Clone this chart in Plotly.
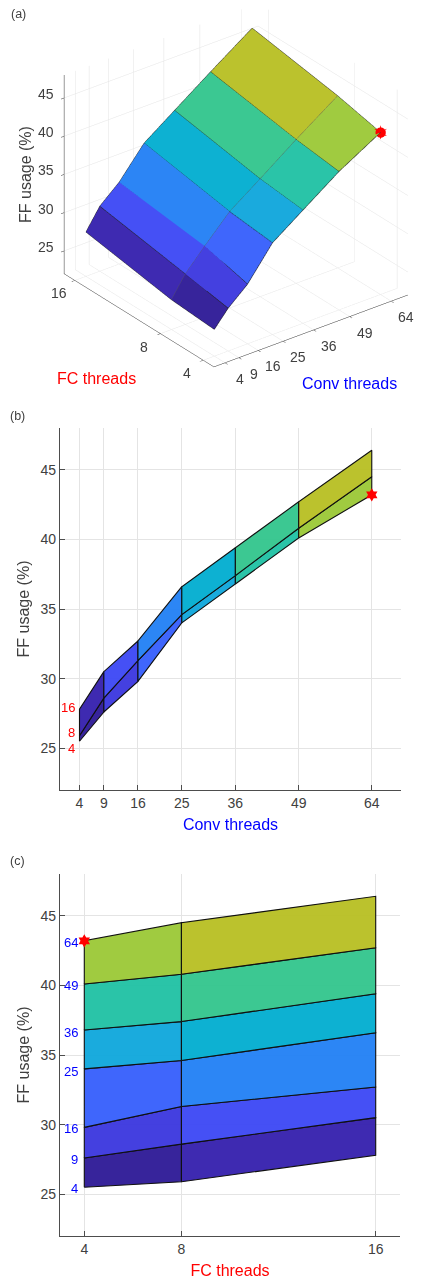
import plotly.graph_objects as go

W, H = 429, 1280
conv_threads = [4, 9, 16, 25, 36, 49, 64]
fc_threads = [4, 8, 16]
ff_fc4 = [25.5, 27.6, 29.8, 34.0, 36.8, 40.1, 43.2]
ff_fc8 = [25.9, 28.6, 31.3, 34.6, 37.4, 40.8, 44.5]
ff_fc16 = [27.8, 30.5, 32.7, 36.6, 39.4, 42.7, 46.4]
cell_colors_low = ["#37249b", "#4440e0", "#3f66fc", "#1aaadd", "#2ac4a8", "#a0cb40"]
cell_colors_high = ["#3e2ab1", "#4550f5", "#2c85f5", "#0db1d2", "#3bc892", "#bbc22d"]
ff_ticks = [25, 30, 35, 40, 45]
star_conv, star_fc, star_ff = 64, 4, 43.2

ff = [ff_fc4, ff_fc8, ff_fc16]
cell_colors = [cell_colors_low, cell_colors_high]
FONT = "Liberation Sans"
TXT = "#404040"
GRID = "#e4e4e4"
AXC = "#4d4d4d"

def fx(px): return px / W
def fy(px): return 1 - px / H

fig = go.Figure()

# ---------- (a) 3D
xs, ys, zs, ii, jj, kk, fcs = [], [], [], [], [], [], []
for r in range(2):
    for c in range(6):
        n = len(xs)
        for (rr, cc) in [(r, c), (r, c + 1), (r + 1, c + 1), (r + 1, c)]:
            xs.append(conv_threads[cc]); ys.append(fc_threads[rr]); zs.append(ff[rr][cc])
        ii += [n, n]; jj += [n + 1, n + 2]; kk += [n + 2, n + 3]
        fcs += [cell_colors[r][c]] * 2
fig.add_trace(go.Mesh3d(x=xs, y=ys, z=zs, i=ii, j=jj, k=kk, facecolor=fcs, flatshading=True,
                        lighting=dict(ambient=1, diffuse=0, specular=0, roughness=1, fresnel=0),
                        hoverinfo="skip", showscale=False, scene="scene"))
for r in range(3):
    fig.add_trace(go.Scatter3d(x=conv_threads, y=[fc_threads[r]] * 7, z=ff[r], mode="lines",
                               line=dict(color="#555555" if r == 1 else "#202020", width=1.2),
                               hoverinfo="skip", showlegend=False, scene="scene"))
for c in range(7):
    fig.add_trace(go.Scatter3d(x=[conv_threads[c]] * 3, y=fc_threads, z=[ff[r][c] for r in range(3)], mode="lines",
                               line=dict(color="#202020", width=1.2), hoverinfo="skip", showlegend=False, scene="scene"))
fig.add_trace(go.Scatter3d(x=[star_conv], y=[star_fc], z=[star_ff], mode="markers+text", text=["✶"], textposition="middle center",
                           textfont=dict(color="#ff0000", size=20, family="DejaVu Sans"),
                           marker=dict(symbol="circle", size=6, color="#ff0000"),
                           hoverinfo="skip", showlegend=False, scene="scene"))

axis3d = dict(showbackground=False, showgrid=True, gridcolor=GRID, gridwidth=1, showline=True, linecolor="#333333",
              linewidth=1, zeroline=False, ticks="outside", ticklen=4, tickcolor="#333333", showspikes=False,
              showticklabels=False, title=dict(text=""))
conv_range, fc_range, ff_range = [0, 70], [3, 17], [22, 48]

def tick3d(x, y, z, t, dx, dy):
    return dict(x=x, y=y, z=z, text=str(t), showarrow=False, xanchor="center", yanchor="middle", xshift=dx, yshift=dy,
                font=dict(family=FONT, size=14, color=TXT))

scene_notes = ([tick3d(conv_range[0], fc_range[1], v, v, -18, 4) for v in ff_ticks]
               + [tick3d(conv_range[0], v, ff_range[0], v, -16, -13) for v in fc_threads]
               + [tick3d(v, fc_range[0], ff_range[0], v, 15, -16) for v in conv_threads])

# full-width 400px-tall scene; the camera centre shifts the box to its place
box_scale = 1.225
cam_center = dict(x=-0.1071, y=0.0372, z=-0.0658)
view_dir = (-0.536, -0.694, 0.48)
scene = dict(
    domain=dict(x=[0, 1], y=[fy(400), 1]),
    xaxis=dict(axis3d, range=conv_range, tickvals=conv_threads),
    yaxis=dict(axis3d, range=fc_range, tickvals=fc_threads),
    zaxis=dict(axis3d, range=ff_range, tickvals=ff_ticks),
    aspectmode="manual", aspectratio=dict(x=box_scale, y=box_scale, z=0.925 * box_scale),
    camera=dict(projection=dict(type="orthographic"), up=dict(x=0, y=0, z=1), center=cam_center,
                eye=dict(x=view_dir[0] * 2 + cam_center["x"], y=view_dir[1] * 2 + cam_center["y"], z=view_dir[2] * 2 + cam_center["z"])),
    annotations=scene_notes,
)

# ---------- (b), (c) helpers
def hex_alpha(h, a=0.95):
    v = [int(h[i:i + 2], 16) for i in (1, 3, 5)]
    v = [max(0, round((p - (1 - a) * 255) / a)) for p in v]
    return f"rgba({v[0]},{v[1]},{v[2]},{a})"

def poly(xv, yv, color, xa, ya):
    fig.add_trace(go.Scatter(x=xv, y=yv, mode="lines", fill="toself", fillcolor=hex_alpha(color),
                             line=dict(color="#101010", width=1.1), hoverinfo="skip", showlegend=False,
                             xaxis=xa, yaxis=ya))

for r in range(2):
    for c in range(6):
        cx = [conv_threads[c], conv_threads[c + 1], conv_threads[c + 1], conv_threads[c], conv_threads[c]]
        cz = [ff[r][c], ff[r][c + 1], ff[r + 1][c + 1], ff[r + 1][c], ff[r][c]]
        poly(cx, cz, cell_colors[r][c], "x", "y")
for c in range(6):
    for r in range(2):
        cy = [fc_threads[r], fc_threads[r + 1], fc_threads[r + 1], fc_threads[r], fc_threads[r]]
        cz = [ff[r][c], ff[r + 1][c], ff[r + 1][c + 1], ff[r][c + 1], ff[r][c]]
        poly(cy, cz, cell_colors[r][c], "x2", "y2")

for xa, ya, xv in [("x", "y", star_conv), ("x2", "y2", star_fc)]:
    fig.add_trace(go.Scatter(x=[xv], y=[star_ff], mode="markers", marker=dict(symbol="hexagram", size=10, color="#ff0000"),
                             hoverinfo="skip", showlegend=False, xaxis=xa, yaxis=ya))

def ax2d(**kw):
    d = dict(showgrid=True, gridcolor=GRID, gridwidth=1, zeroline=False, showline=True, linecolor=AXC, linewidth=1.2,
             ticks="inside", ticklen=5, tickcolor=AXC, tickfont=dict(family=FONT, size=14, color=TXT))
    d.update(kw)
    return d

ytitle = dict(text="FF usage (%)", font=dict(family=FONT, size=16, color=TXT), standoff=6)
def xtitle(t, c): return dict(text=t, font=dict(family=FONT, size=16, color=c), standoff=8)

fig.update_layout(
    width=W, height=H, margin=dict(l=0, r=0, t=0, b=0), paper_bgcolor="white", plot_bgcolor="white",
    showlegend=False, scene=scene,
    xaxis=ax2d(domain=[fx(60), fx(401)], range=conv_range, tickvals=conv_threads, anchor="y", title=xtitle("Conv threads", "#0000ff")),
    yaxis=ax2d(domain=[fy(790), fy(428)], range=ff_range, tickvals=ff_ticks, anchor="x", title=ytitle),
    xaxis2=ax2d(domain=[fx(60), fx(400)], range=fc_range, tickvals=fc_threads, anchor="y2", title=xtitle("FC threads", "#ff0000")),
    yaxis2=ax2d(domain=[fy(1236), fy(874)], range=ff_range, tickvals=ff_ticks, anchor="x2", title=ytitle),
)

def note(t, px, py, size=12.5, color=TXT, **kw):
    fig.add_annotation(text=t, x=fx(px), y=fy(py), xref="paper", yref="paper", showarrow=False, xanchor="center", yanchor="middle",
                       font=dict(family=FONT, size=size, color=color), **kw)

note("(a)", 18, 14)
note("(b)", 17, 416)
note("(c)", 17, 861)
note("FC threads", 96, 378, 16, "#ff0000")
note("Conv threads", 349, 383, 16, "#0000ff")
note("FF usage (%)", 25, 175, 16, TXT, textangle=-90)

# direct level labels
fc_label_ff = [25.0, 26.1, 27.9]
conv_label_ff = [25.4, 27.5, 29.75, 33.8, 36.65, 40.0, 43.1]
for v, z in zip(fc_threads, fc_label_ff):
    fig.add_annotation(text=str(v), x=conv_threads[0], y=z, xref="x", yref="y", xanchor="right", showarrow=False, xshift=-2,
                       font=dict(family=FONT, size=13, color="#ff0000"))
for v, z in zip(conv_threads, conv_label_ff):
    fig.add_annotation(text=str(v), x=fc_threads[0], y=z, xref="x2", yref="y2", xanchor="right", showarrow=False, xshift=-4,
                       font=dict(family=FONT, size=13, color="#0000ff"))

fig.write_html("out.html", config={"displayModeBar": False},
               post_script="document.body.style.margin='0';window.dispatchEvent(new Event('resize'));")
